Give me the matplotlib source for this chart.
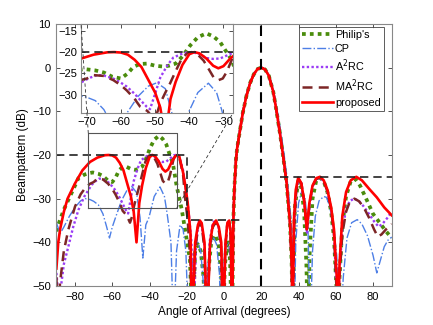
import matplotlib
matplotlib.use("Agg")
import matplotlib.pyplot as plt
from matplotlib.lines import Line2D

plt.rcParams['font.family'] = ['Liberation Sans', 'DejaVu Sans']

# ---------------- data (angle in degrees, beampattern in dB) ----------------
main_x = [4.5, 5.0, 5.5, 6.4, 7.0, 8.5, 10, 12, 14, 16, 18, 20, 22, 24, 26.4, 28, 30,
          31.8, 33.6, 35.4, 36.3, 36.8]
main_y = [-60, -35, -28, -21, -18.5, -14.5, -10.5, -6.5, -3.5, -1.5, -0.3, 0, -0.4, -1.8,
          -5.5, -9.5, -15, -20.5, -26.5, -35.6, -44.7, -60]

red_left_x = [-90, -89, -88, -86, -84, -80, -76, -72, -68, -64, -62, -60, -58, -56, -54, -52,
              -50, -48.5, -47, -45.5, -44, -42, -40, -38.5, -37, -35, -33, -31.5, -30, -28,
              -26, -25, -24, -22, -21, -19.5, -18, -17.2,
              -15.5, -14, -13, -12, -10.5, -9.2, -7.5, -6, -4.3, -2.8, -1.5, -0.5, 0.8, 1.8,
              2.8, 3.6, 4.3]
red_left_y = [-46, -40, -37, -33, -30, -26.5, -23.5, -21.6, -20.6, -20.05, -20, -20.1, -20.6,
              -21.8, -23.5, -26.5, -29.5, -33, -40, -31, -27, -23, -20.5, -20, -20.3, -21.5,
              -23.2, -23.8, -23.3, -21.5, -20.2, -20, -20.4, -24, -26.5, -31, -38, -60,
              -40, -36, -35, -35.6, -40, -60, -40, -36, -35, -36.5, -40, -60, -40, -35.5,
              -35, -38, -60]
red_right_x = [37.5, 38.5, 39.8, 41.5, 43, 44.4, 45.8, 47.5, 49.5, 51.5, 53.5, 55.5, 57.5,
               59, 60.5, 61.2, 62, 63.5, 65.5, 68, 71, 74, 78, 82, 86, 90]
red_right_y = [-35, -28, -25.2, -26.5, -30.5, -37, -31, -27, -25.3, -25, -25.8, -28, -32,
               -37, -48, -60, -45, -34, -28.5, -25.8, -25, -25.8, -27.8, -29.7, -32, -33.8]

green_left_x = [-90, -89, -86, -83.6, -80, -78.2, -75, -72.9, -70.5, -67.5, -65, -62.5, -60,
                -58, -56.4, -54.5, -52.4, -50, -47.6, -46, -44, -42, -39.7, -37.5, -35, -33,
                -31, -29.5, -27.5, -25.4, -22.7, -20, -18.3, -17,
                -15.5, -14, -12.5, -11, -10, -8.5, -7, -5, -3, -1.5, -0.8, 0.5, 2, 3.2, 4.3]
green_left_y = [-37.5, -36, -32.5, -30.3, -27, -25.3, -24.5, -24.2, -24, -24.3, -24.8, -25.8,
                -26.2, -25, -23.5, -22.8, -22.7, -23.2, -23.4, -23.2, -22.7, -21, -18.4,
                -16.5, -15.6, -16.3, -17.6, -19.5, -21.9, -27.2, -32.5, -39.5, -44, -60,
                -42, -40.5, -42, -48, -60, -47, -40.5, -38.3, -40, -48, -60, -45, -39.5,
                -44, -60]
green_right_x = [38, 39.8, 41.5, 43, 44.2, 45, 46, 47.5, 49.5, 51.5, 53.5, 55.5, 57.5, 59,
                 60.3, 61, 62, 63.5, 65.5, 68, 70.5, 73, 76.6, 80, 83.7, 87, 90]
green_right_y = [-32, -26, -27.5, -33, -45, -60, -42, -30, -25.8, -25.2, -26, -28.5, -33,
                 -39, -50, -60, -48, -36, -29.5, -26, -25.5, -27, -30.3, -33.5, -35.6,
                 -37.5, -39]

blue_x = [-90, -88, -86, -83, -80, -77, -74.5, -72, -70, -67.5, -65, -63, -61.5, -60, -58,
          -55, -52, -49.5, -47, -45.1, -43.6, -42, -40.3, -37.5, -34.4, -32, -30.5, -28.5,
          -27.5, -27, -25.5, -23.6, -22, -20.5, -19,
          -17, -15.5, -14, -12.5, -11, -10, -8.5, -7, -5.5, -4, -2.5, -1.5, -0.5, 1, 2.5,
          3.5, 4.5,
          5.0, 5.5, 6.2, 7, 8.5, 10, 12, 14, 16, 18, 20, 22, 24, 26.4, 28, 30, 31.8, 33.6,
          35.4, 36.5, 37.3, 37.6,
          38.5, 40, 41.8, 43.5, 45, 46.3, 47.5, 49, 51, 53.5, 55, 56.5, 58.5, 60.5, 62.5,
          64, 66, 68.5, 71.5, 74, 77, 80, 82, 84, 86, 88, 90]
blue_y = [-35.5, -38, -36.5, -34, -32, -30.5, -30, -30.2, -30.6, -31.4, -33.5, -36.5, -39,
          -36.5, -34, -30.4, -28, -27.2, -28.6, -34.3, -43.6, -36, -34.3, -29.5, -27.3, -29.5,
          -33.6, -40, -55, -60, -42, -36, -37, -42, -60,
          -45, -40.5, -40, -42, -50, -60, -45, -40, -39, -40.5, -47, -60, -48, -41, -40,
          -45, -60,
          -35, -28, -22, -18, -14, -10, -6, -3.2, -1.3, -0.3, 0, -0.3, -1.5, -4.8, -8.5,
          -13.5, -18.5, -24.5, -32, -38, -50, -60,
          -40, -31, -28.2, -30, -36, -60, -42, -34, -30.5, -29.5, -29.7, -31.5, -35.5, -43,
          -60, -48, -39, -35.5, -34.8, -35.8, -38.5, -43, -47, -44, -41, -39.5, -38.8]

purple_left_x = [-90, -89, -88.3, -87.5, -86, -83.6, -81, -78.2, -75, -71, -69, -67, -65,
                 -62, -60, -58.3, -56, -54.4, -52.5, -51.5, -50.5, -48.5, -46.5, -44.7,
                 -42.5, -40.8, -39, -37, -35, -33, -31, -29, -27, -25.5, -24, -22, -20.5,
                 -19, -17.5, -16.5,
                 -15, -13.5, -12, -10.5, -9.3, -7.8, -6, -4.6, -3, -1.6, -0.7, 0.6, 1.8, 2.8,
                 3.7, 4.3]
purple_left_y = [-47, -52, -60, -50, -45, -41, -36.5, -32.6, -29.5, -26.8, -26, -25.4,
                 -25.5, -26.3, -27.2, -28.1, -29.8, -31.2, -32.8, -33.4, -31, -26, -23.2,
                 -21.3, -20.5, -20.1, -20, -20.5, -21.4, -21.6, -21.5, -20.8, -20.1, -19.9,
                 -20.5, -23.5, -28, -33, -40, -60,
                 -40, -35.2, -36, -41, -60, -40, -35.5, -35, -36.5, -41, -60, -41, -35.5,
                 -35, -38, -60]
purple_right_x = [37.7, 38.7, 40, 41.5, 43, 44.5, 46, 47.5, 49.5, 51.5, 53.5, 55.5, 57.5,
                  59, 60.3, 61, 62, 63.5, 65.5, 67.5, 70, 72.5, 75, 78, 81, 83, 85, 87.5, 90]
purple_right_y = [-36, -28.5, -25.5, -26.5, -30.5, -38, -31, -27.2, -25.5, -25.2, -26,
                  -28.3, -32.5, -38, -50, -60, -47, -37, -32.5, -30.5, -30, -30.6, -31.8,
                  -33.6, -35.5, -36.4, -35.8, -34.5, -33]

maroon_left_x = [-90, -89, -88.1, -86, -83.6, -80, -77, -74.6, -72, -70, -68, -65, -62.2,
                 -60, -58.3, -56, -54.4, -52.3, -50.5, -49.3, -48.5, -47, -45.6, -44, -42.2,
                 -40.5, -39.3, -37.5, -35.8, -34.3, -32.9, -31.5, -30.2, -29, -27, -25.5,
                 -24, -22, -21, -19.5, -18, -17.2,
                 -15.5, -14, -13, -11.8, -10.5, -9.3, -7.6, -6, -4.5, -3, -1.6, -0.6, 0.6,
                 1.7, 2.7, 3.5, 4.2]
maroon_left_y = [-48, -60, -49.4, -42, -37.1, -31.8, -29, -27.6, -26.6, -26.2, -25.4,
                 -25.6, -26.6, -27.8, -29, -31, -32.8, -33.8, -35.5, -34, -32, -29.5, -27.3,
                 -24.5, -21.5, -20.2, -20, -20.6, -22, -24, -25.9, -26.6, -26.2, -24.6,
                 -20.7, -20, -20.6, -24.5, -29.5, -35, -45, -60,
                 -42, -36.5, -35.6, -36.5, -42, -60, -41, -36.5, -35.4, -36.6, -41, -60,
                 -42, -36, -35.5, -38.5, -60]
maroon_right_x = [37.7, 38.7, 40, 41.5, 43, 44.5, 46, 47.5, 49.5, 51.5, 53.5, 55.5, 57.5,
                  59, 60.3, 61, 62, 63.5, 65.5, 67.5, 70, 72.5, 75, 78, 80.5, 82.5, 84.5,
                  87, 90]
maroon_right_y = [-36, -28.5, -25.5, -26.5, -30.5, -37, -31, -27.2, -25.5, -25.2, -26,
                  -28.3, -32.5, -38, -50, -60, -48, -38, -33, -30.7, -30, -30.6, -32, -34.5,
                  -37, -38.7, -38.2, -37, -35.8]

mask_x = [-90, -20, -20, 10]
mask_y = [-20, -20, -35, -35]
mask2_x = [30, 90]
mask2_y = [-25, -25]
target_angle = 20

labels = ["Philip's", 'CP', 'A$^2$RC', 'MA$^2$RC', 'proposed']
xticks = [-80, -60, -40, -20, 0, 20, 40, 60, 80]
yticks = [-50, -40, -30, -20, -10, 0, 10]
inset_xticks = [-70, -60, -50, -40, -30]
inset_yticks = [-30, -25, -20, -15]

# ---------------- build series ----------------
green_x = green_left_x + main_x[1:] + green_right_x
green_y = green_left_y + main_y[1:] + green_right_y
red_x = red_left_x + main_x[1:] + red_right_x
red_y = red_left_y + main_y[1:] + red_right_y
purple_x = purple_left_x + main_x[1:] + purple_right_x
purple_y = purple_left_y + main_y[1:] + purple_right_y
maroon_x = maroon_left_x + main_x[1:] + maroon_right_x
maroon_y = maroon_left_y + main_y[1:] + maroon_right_y

styles = [
    dict(color='#4a8c0c', ls=(0, (1, 1.1)), lw=2.7, dash_capstyle='butt'),
    dict(color='#4d7fe6', ls='-.', lw=1.0),
    dict(color='#9a3cf5', ls=(0, (1, 1)), lw=1.7),
    dict(color='#7d2626', ls=(0, (4, 2.5)), lw=1.8),
    dict(color='#ff0000', ls='-', lw=1.9),
]
series = [(green_x, green_y), (blue_x, blue_y), (purple_x, purple_y),
          (maroon_x, maroon_y), (red_x, red_y)]

W, H = 433, 325
fig = plt.figure(figsize=(W / 100, H / 100), dpi=100)
ax = fig.add_axes([56.4 / W, 1 - 286 / H, (391.7 - 56.4) / W, (286 - 24) / H])

handles = []
for (xs, ys), st, lab in zip(series, styles, labels):
    h, = ax.plot(xs, ys, label=lab, **st)
    handles.append(h)

ax.plot(mask_x, mask_y, color='#222222', ls=(0, (5, 3)), lw=1.2)
ax.plot(mask2_x, mask2_y, color='#222222', ls=(0, (5, 3)), lw=1.2)
ax.axvline(target_angle, color='black', ls=(0, (5, 3)), lw=1.5)

# zoom rectangle
rx0, rx1, ry0, ry1 = -73, -25.3, -32.2, -15
ax.plot([rx0, rx1, rx1, rx0, rx0], [ry0, ry0, ry1, ry1, ry0], color='#555555', lw=0.8)

ax.set_xlim(-90, 90)
ax.set_ylim(-50, 10)
ax.set_xticks(xticks)
ax.set_yticks(yticks)
ax.tick_params(direction='in', top=True, right=True, labelsize=8, length=3,
               color='#333333', width=0.6, pad=4)
for sp in ax.spines.values():
    sp.set_color('#888888')
    sp.set_linewidth(0.8)
ax.set_xlabel('Angle of Arrival (degrees)', fontsize=8.5, labelpad=3)
ax.set_ylabel('Beampattern (dB)', fontsize=8.5, labelpad=2)

leg = ax.legend(handles=handles, loc='upper right', bbox_to_anchor=(0.977, 0.99),
                fontsize=7.8, frameon=True, fancybox=False, borderaxespad=0,
                handlelength=2.9, handletextpad=0.15, labelspacing=0.35,
                borderpad=0.3)
leg.get_frame().set_edgecolor('#333333')
leg.get_frame().set_linewidth(0.7)

# inset
ins = fig.add_axes([81 / W, 1 - 113 / H, (233 - 81) / W, (113 - 24) / H])
for (xs, ys), st in zip(series, styles):
    ins.plot(xs, ys, **st)
ins.axhline(-20, color='#222222', ls=(0, (5, 3)), lw=1.2)
ins.set_xlim(-71.7, -27.2)
ins.set_ylim(-34.3, -13.4)
ins.set_xticks(inset_xticks)
ins.set_yticks(inset_yticks)
ins.tick_params(direction='in', top=True, right=True, labelsize=8, length=3,
                color='#333333', width=0.6, pad=3)
for sp in ins.spines.values():
    sp.set_color('#888888')
    sp.set_linewidth(0.8)

# connector lines (figure pixel coordinates -> fraction)
def fp(x, y):
    return x / W, 1 - y / H

for (a, b) in [((88.3, 133.3), (81, 24)), ((176.7, 208.3), (233, 113))]:
    p0, p1 = fp(*a), fp(*b)
    fig.add_artist(Line2D([p0[0], p1[0]], [p0[1], p1[1]], transform=fig.transFigure,
                          color='#333333', lw=0.6, ls=(0, (4, 3)), zorder=10))

fig.savefig('out.png', dpi=100)
